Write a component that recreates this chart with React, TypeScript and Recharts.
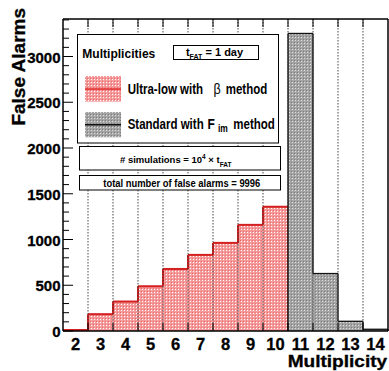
import React from "react";
import { ComposedChart, Bar, XAxis, YAxis, ReferenceLine } from "recharts";

const multiplicities = [2, 3, 4, 5, 6, 7, 8, 9, 10, 11, 12, 13, 14];
const ultraLow = [0, 184, 322, 489, 678, 832, 963, 1160, 1358, 0, 0, 0, 0];
const standard = [0, 0, 0, 0, 0, 0, 0, 0, 0, 3252, 628, 106, 19];
const yTicks = Array.from({ length: 35 }, (_, i) => i * 100);
const yLabels = [0, 500, 1000, 1500, 2000, 2500, 3000];
const edgeCats = [3, 4, 5, 6, 7, 8, 9, 10, 11, 12, 13, 14];

const data = multiplicities.map((m, i) => ({ m, ultra: ultraLow[i], std: standard[i] }));

const FONT = "'Liberation Sans', Arial, Helvetica, sans-serif";

const makeShape = (values: number[], color: string, sw: number, pattern: string, drawZero: boolean) => (props: any) => {
  const { x, y, width, height, index } = props;
  const v = values[index];
  const prev = index > 0 ? values[index - 1] : 0;
  const next = index < values.length - 1 ? values[index + 1] : 0;
  const base = y + height;
  if (!(v > 0)) {
    if (!drawZero) return <g />;
    return <line x1={x} x2={x + width} y1={base - 1} y2={base - 1} stroke={color} strokeWidth={2} />;
  }
  return (
    <g>
      <rect x={x} y={y} width={width} height={height} fill={`url(#${pattern})`} />
      <line x1={x} x2={x + width} y1={y} y2={y} stroke={color} strokeWidth={sw} />
      {prev < v && <line x1={x} x2={x} y1={y} y2={y + height * (1 - prev / v)} stroke={color} strokeWidth={sw} />}
      {next < v && <line x1={x + width} x2={x + width} y1={y} y2={y + height * (1 - next / v)} stroke={color} strokeWidth={sw} />}
    </g>
  );
};

const RedShape = makeShape(ultraLow, "#d42020", 2, "redPat", true);
const GrayShape = makeShape(standard, "#111111", 1.3, "grayPat", false);

const LeftTick = (props: any) => {
  const { x, y, payload } = props;
  const v = payload.value;
  const major = yLabels.includes(v);
  return (
    <g>
      <line x1={x} x2={x + (major ? 10 : 6)} y1={y} y2={y} stroke="#000" strokeWidth={1} />
      {major && (
        <text x={x - 2.5} y={y + 6} textAnchor="end" fontFamily={FONT} fontWeight="bold" fontSize={15} fill="#000" stroke="#000" strokeWidth={0.3}>
          {v}
        </text>
      )}
    </g>
  );
};

const RightTick = (props: any) => {
  const { x, y, payload } = props;
  const major = yLabels.includes(payload.value);
  return <line x1={x} x2={x - (major ? 10 : 6)} y1={y} y2={y} stroke="#000" strokeWidth={1} />;
};

const XTick = (props: any) => {
  const { x, y, payload } = props;
  return (
    <text x={x} y={y + 18.5} textAnchor="middle" fontFamily={FONT} fontWeight="bold" fontSize={16.5} fill="#000" stroke="#000" strokeWidth={0.3}>
      {payload.value}
    </text>
  );
};

const EdgeLine = (props: any) => {
  const { x1, y1, y2 } = props;
  const top = Math.min(y1, y2);
  const bot = Math.max(y1, y2);
  return (
    <g>
      <line x1={x1} x2={x1} y1={top} y2={bot} stroke="#333" strokeWidth={0.9} strokeDasharray="1.5 1.5" />
      <line x1={x1} x2={x1} y1={top} y2={top + 8} stroke="#000" strokeWidth={1} />
      <line x1={x1} x2={x1} y1={bot - 8} y2={bot} stroke="#000" strokeWidth={1} />
    </g>
  );
};

const Stretch = ({ x, y, size, children, weight }: any) => (
  <text transform={`translate(${x},${y}) scale(1,1.2)`} x={0} y={0} fontSize={size} fontWeight={weight || "bold"}>
    {children}
  </text>
);

const Overlay = () => (
  <svg width={389} height={371} style={{ position: "absolute", left: 0, top: 0, pointerEvents: "none" }}>
    <g fontFamily={FONT} fontWeight="bold" fill="#000">
      <text transform="translate(24.5, 8) rotate(-90)" textAnchor="end" fontSize={19} stroke="#000" strokeWidth={0.3}>
        False Alarms
      </text>
      <text x={287.7} y={366.8} fontSize={15.6} textLength={99.5} lengthAdjust="spacingAndGlyphs" stroke="#000" strokeWidth={0.3}>
        Multiplicity
      </text>

      <rect x={77.5} y={34.5} width={201} height={108.5} fill="#fff" stroke="#000" strokeWidth={1} />
      <text x={82.3} y={58.3} fontSize={13} textLength={73} lengthAdjust="spacingAndGlyphs">
        Multiplicities
      </text>
      <rect x={173.5} y={45.5} width={85} height={14} fill="#fff" stroke="#000" strokeWidth={1} />
      <text x={186} y={55.5} fontSize={11}>t</text>
      <text x={189.5} y={59} fontSize={7}>FAT</text>
      <text x={205.5} y={55.5} fontSize={11}>= 1 day</text>

      <rect x={85} y={76} width={36} height={25.7} fill="url(#redPat)" />
      <line x1={85} x2={121} y1={89} y2={89} stroke="#e02828" strokeWidth={1.5} />
      <Stretch x={127.7} y={94} size={11.5}>Ultra-low with</Stretch>
      <Stretch x={213.5} y={94} size={12.5} weight="normal">β</Stretch>
      <Stretch x={225.7} y={94} size={11.5}>method</Stretch>

      <rect x={85} y={112} width={36} height={25.3} fill="url(#grayPat)" />
      <line x1={85} x2={121} y1={124.7} y2={124.7} stroke="#111" strokeWidth={1.5} />
      <Stretch x={127.7} y={129} size={11.5}>Standard with</Stretch>
      <Stretch x={207.5} y={129} size={12}>F</Stretch>
      <Stretch x={218} y={131.5} size={8.5}>im</Stretch>
      <Stretch x={233.3} y={129} size={11.5}>method</Stretch>

      <rect x={79.5} y={146.5} width={201} height={23.5} fill="#fff" stroke="#000" strokeWidth={1} />
      <text x={120} y={163} fontSize={9.5}>
        # simulations = 10<tspan fontSize={6.5} dy={-4}>4</tspan>
        <tspan dy={4}> × t</tspan>
        <tspan fontSize={6.5} dy={4}>FAT</tspan>
      </text>

      <rect x={79.5} y={175.5} width={201} height={14.5} fill="#fff" stroke="#000" strokeWidth={1} />
      <text x={103.3} y={186.7} fontSize={10} textLength={157} lengthAdjust="spacingAndGlyphs">
        total number of false alarms = 9996
      </text>
    </g>
  </svg>
);

export default function App() {
  return (
    <div style={{ position: "absolute", left: 0, top: 0, width: 389, height: 371, background: "#fff" }}>
      <svg width={0} height={0} style={{ position: "absolute" }}>
        <defs>
          <pattern id="redPat" width={3} height={3} patternUnits="userSpaceOnUse">
            <rect width={3} height={3} fill="#f59a9a" />
            <rect x={1} y={1} width={1} height={1} fill="#ffffff" />
            <rect x={0} y={0} width={1} height={1} fill="#ec6c6c" />
          </pattern>
          <pattern id="grayPat" width={3} height={3} patternUnits="userSpaceOnUse">
            <rect width={3} height={3} fill="#a4a4a4" />
            <rect x={1} y={1} width={1} height={1} fill="#dddddd" />
            <rect x={0} y={0} width={1} height={1} fill="#7c7c7c" />
          </pattern>
        </defs>
      </svg>
      <ComposedChart
        width={389}
        height={371}
        data={data}
        margin={{ top: 18, right: 0, bottom: 0, left: 0 }}
        barCategoryGap={0}
        barGap={"-100%"}
      >
        <XAxis
          dataKey="m"
          xAxisId="bottom"
          height={40}
          tickSize={0}
          tickMargin={0}
          tickLine={false}
          interval={0}
          tick={<XTick />}
          axisLine={{ stroke: "#000", strokeWidth: 1.5 }}
        />
        <XAxis
          dataKey="m"
          xAxisId="top"
          orientation="top"
          height={1}
          tick={false}
          tickLine={false}
          axisLine={{ stroke: "#000", strokeWidth: 1.5 }}
        />
        <YAxis
          yAxisId="left"
          width={63}
          domain={[0, 3410]}
          ticks={yTicks}
          interval={0}
          tickSize={0}
          tickMargin={0}
          tickLine={false}
          tick={<LeftTick />}
          axisLine={{ stroke: "#000", strokeWidth: 1.5 }}
        />
        <YAxis
          yAxisId="right"
          orientation="right"
          width={1}
          domain={[0, 3410]}
          ticks={yTicks}
          interval={0}
          tickSize={0}
          tickMargin={0}
          tickLine={false}
          tick={<RightTick />}
          axisLine={{ stroke: "#000", strokeWidth: 1.5 }}
        />
        <Bar dataKey="ultra" xAxisId="bottom" yAxisId="left" shape={RedShape} isAnimationActive={false} />
        <Bar dataKey="std" xAxisId="bottom" yAxisId="left" shape={GrayShape} isAnimationActive={false} />
        {edgeCats.map((c) => (
          <ReferenceLine key={c} x={c} xAxisId="bottom" yAxisId="left" position="start" shape={EdgeLine} />
        ))}
      </ComposedChart>
      <Overlay />
    </div>
  );
}
